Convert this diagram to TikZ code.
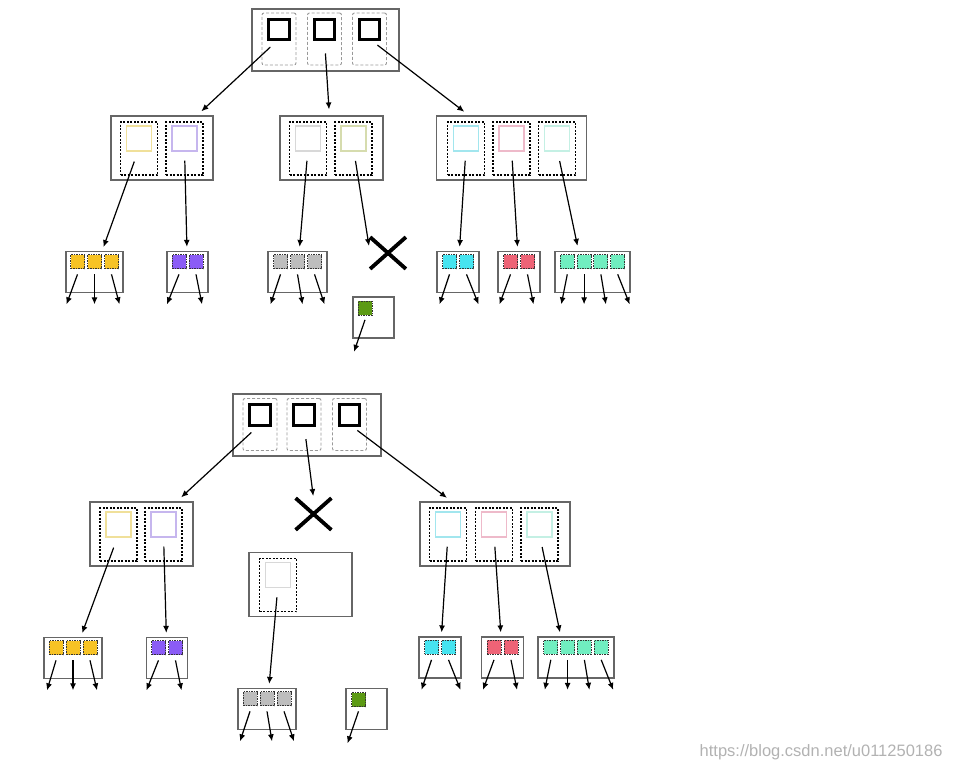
\documentclass[tikz,border=0pt]{standalone}
\usepackage{fontspec}
\newfontfamily\wmfont{Liberation Sans}
\usetikzlibrary{arrows.meta,positioning,shapes.misc}
\definecolor{cYel}{HTML}{F0E09A}
\definecolor{cLav}{HTML}{C6B6EE}
\definecolor{cGry}{HTML}{D8D8D8}
\definecolor{cOli}{HTML}{D6DCAE}
\definecolor{cCya}{HTML}{A2E6EE}
\definecolor{cPnk}{HTML}{EEBACA}
\definecolor{cMnt}{HTML}{C4F0E4}
\definecolor{dGold}{HTML}{F7C325}
\definecolor{dPur}{HTML}{8B5CF6}
\definecolor{dGry}{HTML}{BDBDBD}
\definecolor{dGrn}{HTML}{5C9A14}
\definecolor{dCya}{HTML}{46E4F0}
\definecolor{dRed}{HTML}{EE6376}
\definecolor{dMnt}{HTML}{70EEC0}

\begin{document}
\begin{tikzpicture}[
  x=1pt, y=-1pt,
  >={Latex[length=7pt,width=6pt]},
  rootbox/.style={draw=black!60, line width=1.2pt, inner sep=0pt,
                  minimum width=#1, minimum height=62pt},
  pagebox/.style={draw=black!60, line width=1.2pt, inner sep=0pt,
                  minimum width=#1, minimum height=64pt},
  leafbox/.style={draw=black!60, line width=1.2pt, inner sep=0pt,
                  minimum width=#1, minimum height=41pt},
  gslot/.style={draw=black!40, line width=0.9pt, dash pattern=on 3pt off 2pt,
                rounded corners=2pt, inner sep=0pt,
                minimum width=34pt, minimum height=52pt},
  bslot/.style={draw=black, line width=1.4pt, dash pattern=on 2pt off 1.5pt,
                inner sep=0pt, minimum width=37pt, minimum height=53pt},
  keysq/.style={draw=black, line width=3pt, inner sep=0pt, minimum size=20.5pt},
  colsq/.style={draw=#1, line width=1.2pt, inner sep=0pt, minimum size=25pt},
  datasq/.style={draw=black!80, fill=#1, line width=0.9pt,
                 dash pattern=on 1.5pt off 1pt, inner sep=0pt, minimum size=14pt},
  cross/.style={cross out, draw=black, line width=3.8pt, inner sep=0pt,
                minimum width=32pt, minimum height=28pt},
  arr/.style={->, line width=1.2pt}
]
\useasboundingbox (0,0) rectangle (956,771);

%% ================= upper tree =================
%% Root
\node[rootbox=147pt] (rt)  at (325.5,40) {};
\node[gslot]         (rta) at (279,39)   {};
\node[gslot]         (rtb) at (324.5,39) {};
\node[gslot]         (rtc) at (369.5,39) {};
\foreach \s in {rta,rtb,rtc}
  \node[keysq, below=5pt of \s.north] {};

%% Inner pages
\node[pagebox=102pt] (na)  at (162,148)   {};
\node[bslot]         (naa) at (139,148.5) {};
\node[bslot]         (nab) at (184.5,148.5) {};
\node[colsq=cYel, below=4pt of naa.north] {};
\node[colsq=cLav, below=4pt of nab.north] {};

\node[pagebox=103pt] (nb)  at (331.5,148) {};
\node[bslot]         (nba) at (308,148.5) {};
\node[bslot]         (nbb) at (353.5,148.5) {};
\node[colsq=cGry, below=4pt of nba.north] {};
\node[colsq=cOli, below=4pt of nbb.north] {};

\node[pagebox=150pt] (nc)  at (511.5,148) {};
\node[bslot]         (nca) at (466,148.5) {};
\node[bslot]         (ncb) at (511.5,148.5) {};
\node[bslot]         (ncc) at (557,148.5) {};
\node[colsq=cCya, below=4pt of nca.north] {};
\node[colsq=cPnk, below=4pt of ncb.north] {};
\node[colsq=cMnt, below=4pt of ncc.north] {};

\node[cross] (xa) at (388,253) {};

%% Leaves
\node[leafbox=57pt] (l1) at (94.5,272) {};
\foreach \i in {1,2,3}
  \node[datasq=dGold] (l1s\i) at ([shift={({(\i-2)*17},11)}]l1.north) {};
\node[leafbox=41pt] (l2) at (187.5,272) {};
\foreach \i in {1,2}
  \node[datasq=dPur] (l2s\i) at ([shift={({(\i-1.5)*17},11)}]l2.north) {};
\node[leafbox=59pt] (l3) at (297.5,272) {};
\foreach \i in {1,2,3}
  \node[datasq=dGry] (l3s\i) at ([shift={({(\i-2)*17},11)}]l3.north) {};
\node[leafbox=41pt] (lg) at (373.5,317.5) {};
\node[datasq=dGrn] (lgs1) at ([shift={(-8.5,12)}]lg.north) {};
\node[leafbox=42pt] (l5) at (458,272) {};
\foreach \i in {1,2}
  \node[datasq=dCya] (l5s\i) at ([shift={({(\i-1.5)*17},11)}]l5.north) {};
\node[leafbox=42pt] (l6) at (519,272) {};
\foreach \i in {1,2}
  \node[datasq=dRed] (l6s\i) at ([shift={({(\i-1.5)*17},11)}]l6.north) {};
\node[leafbox=75pt] (l7) at (592.5,272) {};
\foreach \i in {1,...,4}
  \node[datasq=dMnt] (l7s\i) at ([shift={({(\i-2.5)*16.8},11)}]l7.north) {};

%% Arrows
\draw[arr, shorten <=-12pt, shorten >=6pt] (rta) -- (na);
\draw[arr, shorten <=-12pt, shorten >=6pt] (rtb) -- (nb);
\draw[arr, shorten <=-12pt, shorten >=6pt] (rtc) -- (nc);
\draw[arr, shorten <=-15pt, shorten >=4pt] (naa) -- (l1);
\draw[arr, shorten <=-15pt, shorten >=4pt] (nab) -- (l2);
\draw[arr, shorten <=-15pt, shorten >=4pt] (nba) -- (l3);
\draw[arr, shorten <=-15pt] (nbb) -- ([shift={(-19,-7)}]xa.center);
\draw[arr, shorten <=-15pt, shorten >=4pt] (nca) -- (l5);
\draw[arr, shorten <=-15pt, shorten >=4pt] (ncb) -- (l6);
\draw[arr, shorten <=-15pt] (ncc) -- ([shift={(-15,-5)}]l7.north);

\foreach \d [count=\i] in {-11,0,8}
  \draw[arr] ([shift={(0,5)}]l1s\i.south) -- ++(\d,30);
\foreach \d [count=\i] in {-12,6}
  \draw[arr] ([shift={(0,5)}]l2s\i.south) -- ++(\d,30);
\foreach \d [count=\i] in {-10,5,10}
  \draw[arr] ([shift={(0,5)}]l3s\i.south) -- ++(\d,30);
\draw[arr] ([shift={(0,4)}]lgs1.south) -- ++(-11,32);
\foreach \d [count=\i] in {-10,12}
  \draw[arr] ([shift={(0,5)}]l5s\i.south) -- ++(\d,30);
\foreach \d [count=\i] in {-11,6}
  \draw[arr] ([shift={(0,5)}]l6s\i.south) -- ++(\d,30);
\foreach \d [count=\i] in {-6,0,5,12}
  \draw[arr] ([shift={(0,5)}]l7s\i.south) -- ++(\d,30);

%% ================= lower tree =================
%% Root
\node[rootbox=148pt] (rt2)  at (307,425)   {};
\node[gslot]         (rt2a) at (260,424.5) {};
\node[gslot]         (rt2b) at (304,424.5) {};
\node[gslot]         (rt2c) at (349.5,424.5) {};
\foreach \s in {rt2a,rt2b,rt2c}
  \node[keysq, below=5pt of \s.north] {};

%% Inner pages
\node[pagebox=103pt] (a2)  at (141.5,534) {};
\node[bslot]         (a2a) at (118.5,534.5) {};
\node[bslot]         (a2b) at (163.5,534.5) {};
\node[colsq=cYel, below=4pt of a2a.north] {};
\node[colsq=cLav, below=4pt of a2b.north] {};

\node[cross] (xb) at (313.5,514) {};

\node[pagebox=103pt] (m2)  at (300.5,584.5) {};
\node[bslot]         (m2a) at (278,585) {};
\node[colsq=cGry, below=4pt of m2a.north] {};

\node[pagebox=150pt] (c2)  at (495,534) {};
\node[bslot]         (c2a) at (448,534.5) {};
\node[bslot]         (c2b) at (494,534.5) {};
\node[bslot]         (c2c) at (539.5,534.5) {};
\node[colsq=cCya, below=4pt of c2a.north] {};
\node[colsq=cPnk, below=4pt of c2b.north] {};
\node[colsq=cMnt, below=4pt of c2c.north] {};

%% Leaves
\node[leafbox=58pt] (l1b) at (73,658) {};
\foreach \i in {1,2,3}
  \node[datasq=dGold] (l1bs\i) at ([shift={({(\i-2)*17},11)}]l1b.north) {};
\node[leafbox=41pt] (l2b) at (167,658) {};
\foreach \i in {1,2}
  \node[datasq=dPur] (l2bs\i) at ([shift={({(\i-1.5)*17},11)}]l2b.north) {};
\node[leafbox=58pt] (l3b) at (267,709) {};
\foreach \i in {1,2,3}
  \node[datasq=dGry] (l3bs\i) at ([shift={({(\i-2)*17},11)}]l3b.north) {};
\node[leafbox=41pt] (lgb) at (366.5,709) {};
\node[datasq=dGrn] (lgbs1) at ([shift={(-8,12)}]lgb.north) {};
\node[leafbox=42pt] (l5b) at (440,657.5) {};
\foreach \i in {1,2}
  \node[datasq=dCya] (l5bs\i) at ([shift={({(\i-1.5)*17},11)}]l5b.north) {};
\node[leafbox=42pt] (l6b) at (502.5,657.5) {};
\foreach \i in {1,2}
  \node[datasq=dRed] (l6bs\i) at ([shift={({(\i-1.5)*17},11)}]l6b.north) {};
\node[leafbox=76pt] (l7b) at (576,657.5) {};
\foreach \i in {1,...,4}
  \node[datasq=dMnt] (l7bs\i) at ([shift={({(\i-2.5)*16.8},11)}]l7b.north) {};

%% Arrows
\draw[arr, shorten <=-12pt, shorten >=6pt] (rt2a) -- (a2);
\draw[arr, shorten <=-12pt, shorten >=2pt] (rt2b) -- (xb.north);
\draw[arr, shorten <=-12pt, shorten >=6pt] (rt2c) -- (c2);
\draw[arr, shorten <=-15pt, shorten >=4pt] (a2a) -- (l1b);
\draw[arr, shorten <=-15pt, shorten >=4pt] (a2b) -- (l2b);
\draw[arr, shorten <=-15pt, shorten >=4pt] (m2a) -- (l3b);
\draw[arr, shorten <=-15pt, shorten >=4pt] (c2a) -- (l5b);
\draw[arr, shorten <=-15pt, shorten >=4pt] (c2b) -- (l6b);
\draw[arr, shorten <=-15pt] (c2c) -- ([shift={(-16,-4)}]l7b.north);

\foreach \d [count=\i] in {-9,0,7}
  \draw[arr] ([shift={(0,5)}]l1bs\i.south) -- ++(\d,30);
\foreach \d [count=\i] in {-12,6}
  \draw[arr] ([shift={(0,5)}]l2bs\i.south) -- ++(\d,30);
\foreach \d [count=\i] in {-10,5,10}
  \draw[arr] ([shift={(0,5)}]l3bs\i.south) -- ++(\d,30);
\draw[arr] ([shift={(0,4)}]lgbs1.south) -- ++(-11,32);
\foreach \d [count=\i] in {-10,12}
  \draw[arr] ([shift={(0,5)}]l5bs\i.south) -- ++(\d,30);
\foreach \d [count=\i] in {-11,6}
  \draw[arr] ([shift={(0,5)}]l6bs\i.south) -- ++(\d,30);
\foreach \d [count=\i] in {-6,0,5,12}
  \draw[arr] ([shift={(0,5)}]l7bs\i.south) -- ++(\d,30);

%% Watermark
\node[anchor=east, text=black!30, font=\fontsize{16.5}{19}\selectfont\wmfont]
  (wm) at (946,752) {https://blog.csdn.net/u011250186};
\end{tikzpicture}
\end{document}
